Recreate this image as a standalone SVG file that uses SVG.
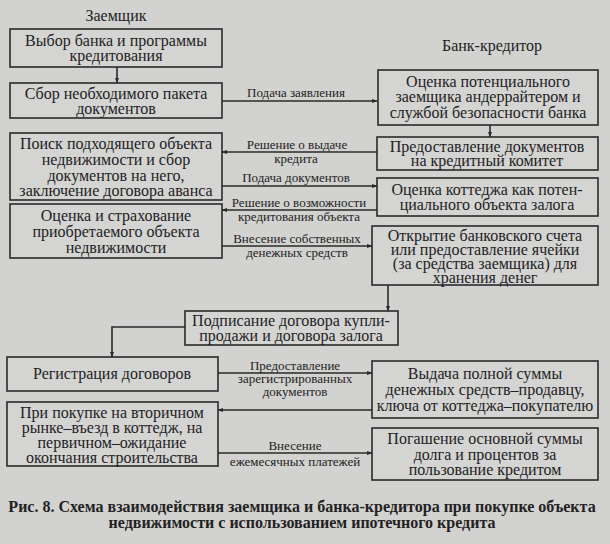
<svg xmlns="http://www.w3.org/2000/svg" width="610" height="544" viewBox="0 0 610 544">
<style>
.bg{fill:#d2d2d0}
.box{fill:#d4d4d2;stroke:#2a2a2a;stroke-width:1.6}
.t{font-family:'Liberation Serif','Times New Roman',serif;font-size:16px;fill:#222;text-anchor:middle}
.h{font-family:'Liberation Serif','Times New Roman',serif;font-size:16px;fill:#222;text-anchor:middle}
.l{font-family:'Liberation Serif','Times New Roman',serif;font-size:13px;fill:#222;text-anchor:middle}
.c{font-family:'Liberation Serif','Times New Roman',serif;font-size:16px;font-weight:bold;fill:#222;text-anchor:middle}
.ln{fill:none;stroke:#2a2a2a;stroke-width:1.6}
</style>
<defs>
<marker id="a" viewBox="0 0 10 10" refX="9" refY="5" markerWidth="6" markerHeight="6" orient="auto" markerUnits="userSpaceOnUse">
<path d="M0,1.5 L10,5 L0,8.5 z" fill="#2a2a2a"/>
</marker>
</defs>
<rect class="bg" x="0" y="0" width="610" height="544"/>
<text class="h" x="116" y="21">Заемщик</text>
<text class="h" x="492" y="51">Банк-кредитор</text>

<g id="connectors">
<line class="ln" x1="117" y1="67" x2="117" y2="83" marker-end="url(#a)"/>
<line class="ln" x1="222" y1="101" x2="377" y2="101" marker-end="url(#a)"/>
<line class="ln" x1="490" y1="125" x2="490" y2="137" marker-end="url(#a)"/>
<line class="ln" x1="377" y1="152" x2="222" y2="152" marker-end="url(#a)"/>
<line class="ln" x1="222" y1="186" x2="377" y2="186" marker-end="url(#a)"/>
<line class="ln" x1="377" y1="210" x2="222" y2="210" marker-end="url(#a)"/>
<line class="ln" x1="222" y1="246" x2="372" y2="246" marker-end="url(#a)"/>
<line class="ln" x1="388" y1="285" x2="388" y2="311" marker-end="url(#a)"/>
<polyline class="ln" points="185,327 112,327 112,357" marker-end="url(#a)"/>
<line class="ln" x1="218" y1="373" x2="372" y2="373" marker-end="url(#a)"/>
<line class="ln" x1="372" y1="410" x2="218" y2="410" marker-end="url(#a)"/>
<line class="ln" x1="218" y1="453" x2="372" y2="453" marker-end="url(#a)"/>
<text class="l" x="296" y="97">Подача заявления</text>
<text class="l" x="297" y="149">Решение о выдаче</text>
<text class="l" x="296" y="163">кредита</text>
<text class="l" x="296" y="182">Подача документов</text>
<text class="l" x="299" y="207">Решение о возможности</text>
<text class="l" x="299" y="221">кредитования объекта</text>
<text class="l" x="297" y="243">Внесение собственных</text>
<text class="l" x="297" y="257">денежных средств</text>
<text class="l" x="295" y="370">Предоставление</text>
<text class="l" x="295" y="383">зарегистрированных</text>
<text class="l" x="295" y="396">документов</text>
<text class="l" x="295" y="450">Внесение</text>
<text class="l" x="295" y="466">ежемесячных платежей</text>
</g>

<g id="n1"><rect class="box" x="10" y="29" width="212" height="38"/>
<text class="t" x="116" y="46">Выбор банка и программы</text>
<text class="t" x="116" y="61">кредитования</text></g>

<g id="n2"><rect class="box" x="10" y="83" width="212" height="35"/>
<text class="t" x="116" y="99">Сбор необходимого пакета</text>
<text class="t" x="116" y="114">документов</text></g>

<g id="n3"><rect class="box" x="378" y="70" width="220" height="55"/>
<text class="t" x="488" y="87">Оценка потенциального</text>
<text class="t" x="488" y="102">заемщика андеррайтером и</text>
<text class="t" x="488" y="118">службой безопасности банка</text></g>

<g id="n4"><rect class="box" x="377" y="137" width="221" height="33"/>
<text class="t" x="487" y="152">Предоставление документов</text>
<text class="t" x="487" y="166">на кредитный комитет</text></g>

<g id="n5"><rect class="box" x="10" y="133" width="212" height="67"/>
<text class="t" x="116" y="149">Поиск подходящего объекта</text>
<text class="t" x="116" y="165">недвижимости и сбор</text>
<text class="t" x="116" y="181">документов на него,</text>
<text class="t" x="116" y="196">заключение договора аванса</text></g>

<g id="n6"><rect class="box" x="377" y="178" width="221" height="38"/>
<text class="t" x="487" y="195">Оценка коттеджа как потен-</text>
<text class="t" x="487" y="210">циального объекта залога</text></g>

<g id="n7"><rect class="box" x="10" y="204" width="212" height="54"/>
<text class="t" x="116" y="221">Оценка и страхование</text>
<text class="t" x="116" y="237">приобретаемого объекта</text>
<text class="t" x="116" y="253">недвижимости</text></g>

<g id="n8"><rect class="box" x="372" y="226" width="226" height="59"/>
<text class="t" x="485" y="241">Открытие банковского счета</text>
<text class="t" x="485" y="255">или предоставление ячейки</text>
<text class="t" x="485" y="269">(за средства заемщика) для</text>
<text class="t" x="485" y="283">хранения денег</text></g>

<g id="n9"><rect class="box" x="185" y="311" width="213" height="34"/>
<text class="t" x="291" y="326">Подписание договора купли-</text>
<text class="t" x="291" y="341">продажи и договора залога</text></g>

<g id="n10"><rect class="box" x="7" y="357" width="211" height="34"/>
<text class="t" x="112" y="379">Регистрация договоров</text></g>

<g id="n11"><rect class="box" x="372" y="361" width="226" height="57"/>
<text class="t" x="485" y="379">Выдача полной суммы</text>
<text class="t" x="485" y="395">денежных средств–продавцу,</text>
<text class="t" x="485" y="411">ключа от коттеджа–покупателю</text></g>

<g id="n12"><rect class="box" x="7" y="402" width="211" height="64"/>
<text class="t" x="112" y="418">При покупке на вторичном</text>
<text class="t" x="112" y="433">рынке–въезд в коттедж, на</text>
<text class="t" x="112" y="448">первичном–ожидание</text>
<text class="t" x="112" y="463">окончания строительства</text></g>

<g id="n13"><rect class="box" x="372" y="428" width="226" height="52"/>
<text class="t" x="485" y="444">Погашение основной суммы</text>
<text class="t" x="485" y="460">долга и процентов за</text>
<text class="t" x="485" y="475">пользование кредитом</text></g>

<text class="c" x="302" y="512">Рис. 8. Схема взаимодействия заемщика и банка-кредитора при покупке объекта</text>
<text class="c" x="302" y="528">недвижимости с использованием ипотечного кредита</text>
</svg>
